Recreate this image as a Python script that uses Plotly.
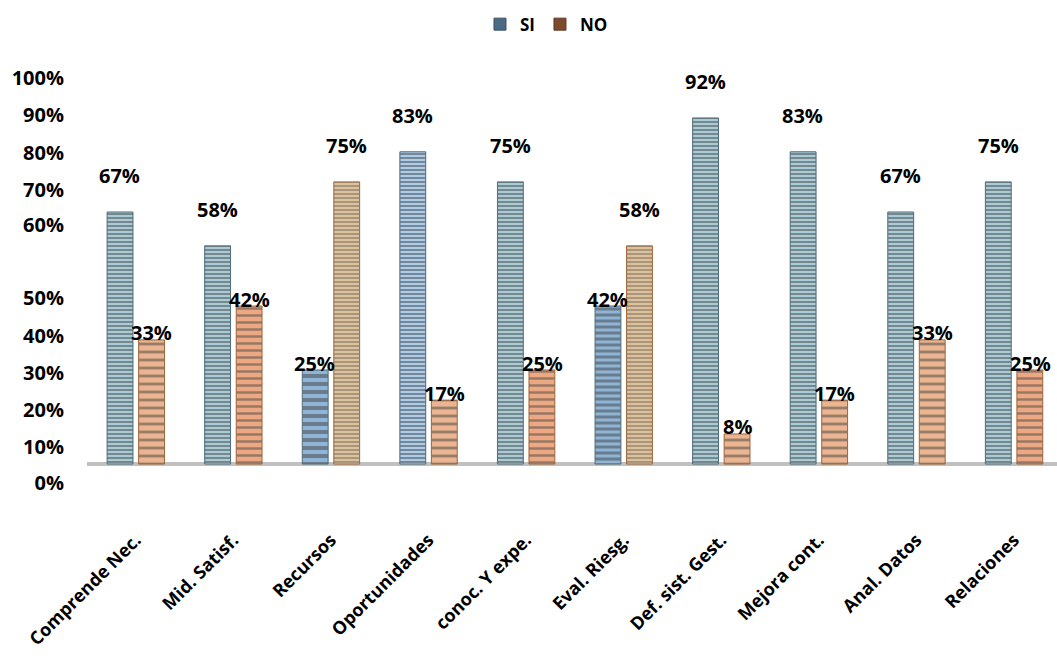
import plotly.graph_objects as go

# Survey results per management-system requirement
categories = ["Comprende Nec.", "Mid. Satisf.", "Recursos", "Oportunidades",
              "conoc. Y expe.", "Eval. Riesg.", "Def. sist. Gest.", "Mejora cont.",
              "Anal. Datos", "Relaciones"]
si_values = [67, 58, 25, 83, 75, 42, 92, 83, 67, 75]
no_values = [33, 42, 75, 17, 25, 58, 8, 17, 33, 25]

# Y-axis labels as laid out on the chart
y_tick_labels = ["0%", "10%", "20%", "30%", "40%", "50%", "60%", "70%", "80%", "90%", "100%"]
y_tick_pos = [-5.1, 4.5, 14.4, 24.2, 34.0, 44.1, 63.6, 72.9, 82.7, 92.8, 102.7]

FONT = "Open Sans"

# Bar textures (horizontal stripes), per bar
si_bg = ["#a8cbd6", "#a8cbd6", "#8fb4d6", "#abcbe8", "#a8cbd6",
         "#8fb4d6", "#a8cbd6", "#a8cbd6", "#a8cbd6", "#a8cbd6"]
si_fg = ["#5b808e", "#5b808e", "#4d7694", "#3b78b8", "#5b808e",
         "#4d7694", "#5b808e", "#5b808e", "#5b808e", "#5b808e"]
si_size = [4, 4, 8, 4, 4, 6, 4, 4, 4, 4]

no_bg = ["#eab590", "#eba883", "#dcc19b", "#eab590", "#eba883",
         "#dcc19b", "#eab590", "#eab590", "#eab590", "#eba883"]
no_fg = ["#c4691f", "#9c7550", "#8d6b47", "#c4691f", "#9c7550",
         "#8d6b47", "#c4691f", "#c4691f", "#c4691f", "#9c7550"]
no_size = [8, 7, 4, 8, 7, 4, 8, 8, 8, 7]

fig = go.Figure()
fig.add_trace(go.Bar(
    name="SI", x=categories, y=si_values, showlegend=False,
    legendgroup="SI", offsetgroup="SI",
    marker=dict(color=si_bg, line=dict(color="#4e6b78", width=1),
                pattern=dict(shape="-", fgcolor=si_fg, size=si_size,
                             solidity=0.5, fillmode="overlay")),
))
fig.add_trace(go.Bar(
    name="NO", x=categories, y=no_values, showlegend=False,
    legendgroup="NO", offsetgroup="NO",
    marker=dict(color=no_bg, line=dict(color="#a0643a", width=1),
                pattern=dict(shape="-", fgcolor=no_fg, size=no_size,
                             solidity=0.35, fillmode="overlay")),
))

# Legend keys: plain dark swatches for each series
fig.add_trace(go.Bar(name="SI", x=[None], y=[None], legendgroup="SI", offsetgroup="SI",
                     marker=dict(color="#4b6a84", line=dict(color="#3a5266", width=1))))
fig.add_trace(go.Bar(name="NO", x=[None], y=[None], legendgroup="NO", offsetgroup="NO",
                     marker=dict(color="#7c4b2e", line=dict(color="#5e3820", width=1))))

# Value labels: the taller bar of each pair gets its label lifted above it
annotations = []
for cat, s, n in zip(categories, si_values, no_values):
    for val, dx, taller in ((s, -16, s >= n), (n, 16, n > s)):
        annotations.append(dict(
            x=cat, y=val, xref="x", yref="y", text=f"{val}%", showarrow=False,
            xshift=dx, yshift=36 if taller else 7, yanchor="middle",
            font=dict(family=FONT, size=20, color="#000000", weight="bold"),
        ))

fig.update_layout(
    width=1057, height=658,
    margin=dict(l=87, r=0, t=60, b=133),
    paper_bgcolor="white", plot_bgcolor="white",
    barmode="group", bargap=0.354, bargroupgap=0.18,
    font=dict(family=FONT, color="#000000"),
    showlegend=True,
    legend=dict(orientation="h", xref="container", yref="container",
                x=0.517, xanchor="center", y=0.99, yanchor="top",
                font=dict(family=FONT, size=17, weight="bold"),
                itemwidth=30, traceorder="normal"),
    annotations=annotations,
    xaxis=dict(range=[-0.5, 9.44], showgrid=False, showline=False, ticks="",
               tickangle=-45,
               tickfont=dict(family=FONT, size=18, color="#000000", weight="bold")),
    yaxis=dict(range=[-16.2, 107.4], showgrid=False, showline=False, ticks="",
               tickvals=y_tick_pos, ticktext=y_tick_labels, ticklabelstandoff=22,
               zeroline=True, zerolinecolor="#c0c0c0", zerolinewidth=4,
               tickfont=dict(family=FONT, size=20, color="#000000", weight="bold")),
)

fig.write_html("out.html")
